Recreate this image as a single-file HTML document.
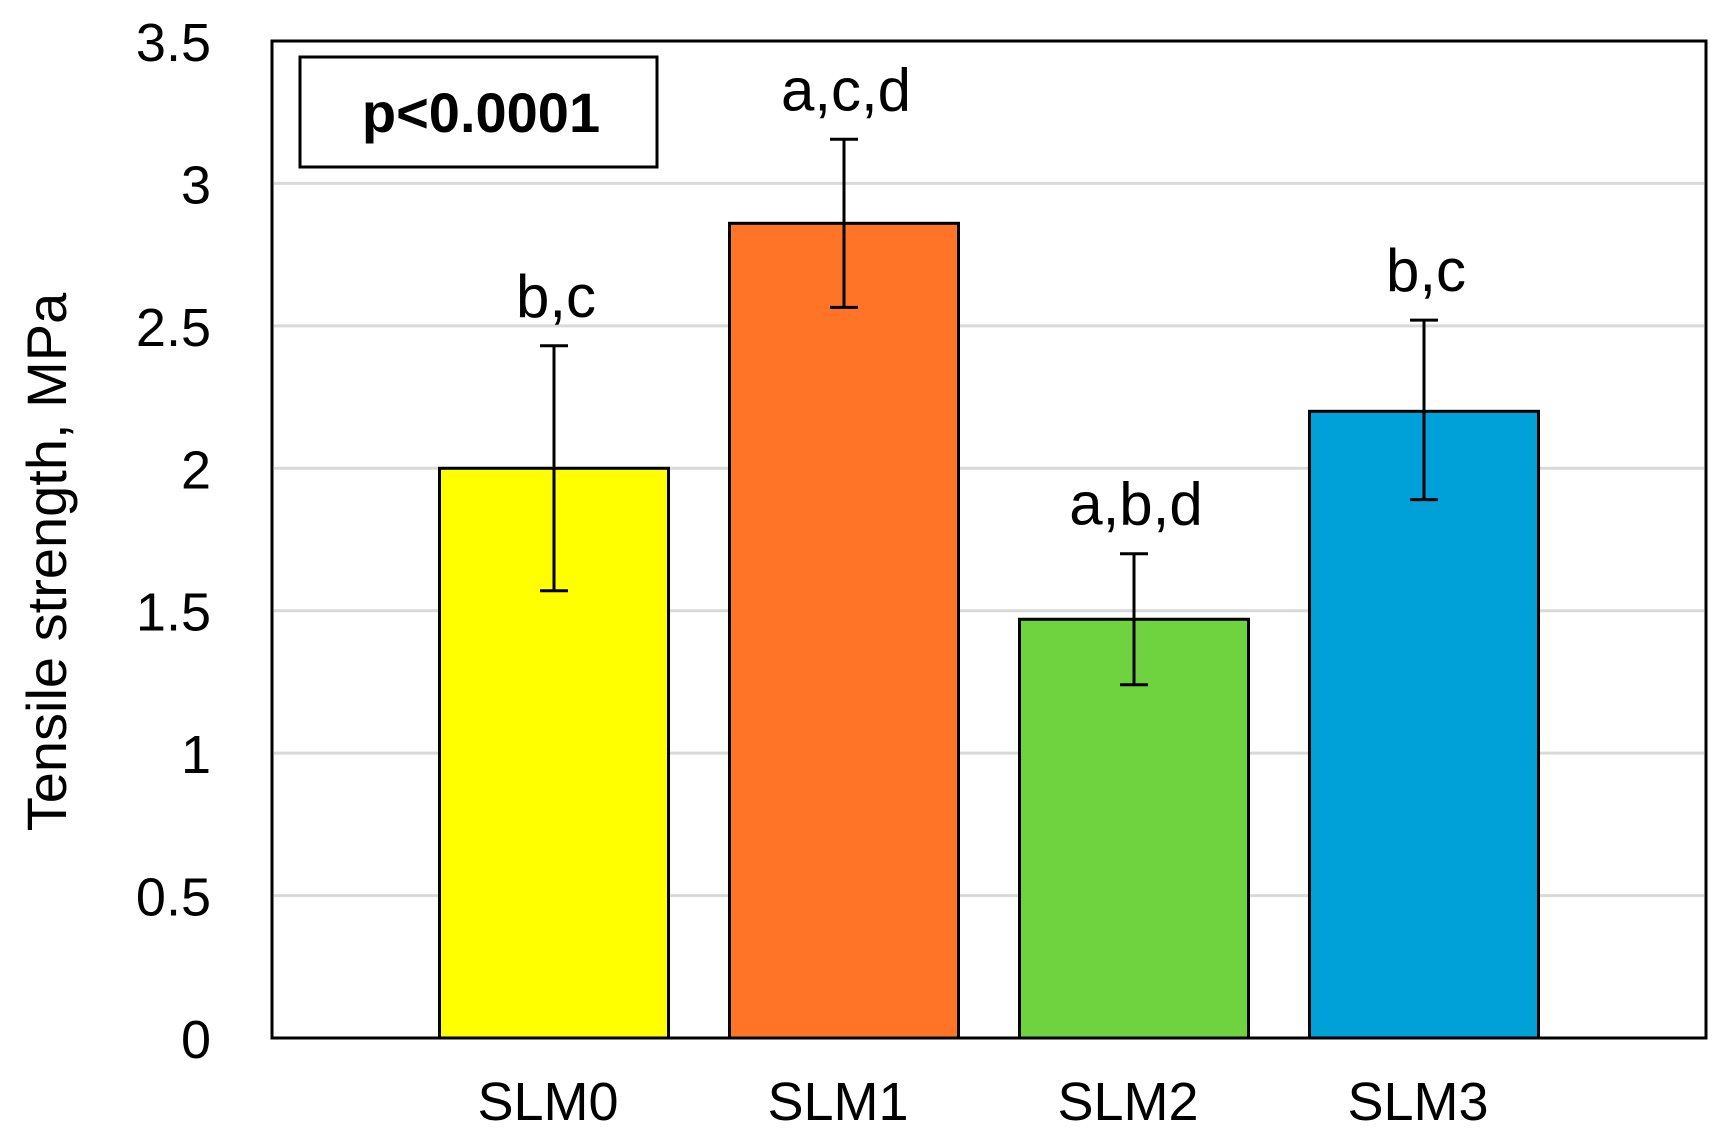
<!DOCTYPE html>
<html><head><meta charset="utf-8">
<style>
html,body{margin:0;padding:0;background:#fff;}
svg{display:block;font-family:"Liberation Sans",sans-serif;}
</style></head>
<body>
<svg id="chart" width="1732" height="1145" viewBox="0 0 1732 1145">
<g id="grid"></g>
<g id="bars"></g>
<g id="errs"></g>
<g id="ann"></g>
<g id="yticks"></g>
<g id="xticks"></g>
<rect x="272" y="41" width="1434" height="997" fill="none" stroke="#000" stroke-width="3"/>
<g>
<rect x="300" y="57" width="357" height="110" fill="#fff" stroke="#000" stroke-width="3"/>
<text x="481" y="132" text-anchor="middle" font-size="56" font-weight="bold">p&lt;0.0001</text>
</g>
<text transform="translate(66,562) rotate(-90)" text-anchor="middle" font-size="56">Tensile strength, MPa</text>
</svg>
<script>
const categories = ["SLM0","SLM1","SLM2","SLM3"];
const means = [2.0, 2.86, 1.47, 2.2];
const errLow = [1.57, 2.565, 1.24, 1.89];
const errHigh = [2.43, 3.155, 1.70, 2.52];
const letters = ["b,c","a,c,d","a,b,d","b,c"];
const colors = ["#ffff00","#ff7427","#6fd33f","#00a0d8"];
const yTicks = [0,0.5,1,1.5,2,2.5,3,3.5];
const yTickLabels = ["0","0.5","1","1.5","2","2.5","3","3.5"];

const NS = "http://www.w3.org/2000/svg";
const top0 = 41, bot0 = 1038, yMax = 3.5;
function y(v){ return bot0 - v/yMax*(bot0-top0); }
function x(i){ return 554 + i*290; }
const bw = 229;
function mk(parent, tag, attrs){
  const el = document.createElementNS(NS, tag);
  for (const k in attrs) el.setAttribute(k, attrs[k]);
  document.getElementById(parent).appendChild(el);
  return el;
}
yTicks.forEach((t,i)=>{
  if (t>0 && t<yMax){
    const g = mk("grid","line",{x1:274,x2:1704,y1:y(t),y2:y(t),stroke:"#d9d9d9","stroke-width":3});
    
    
  }
  const tl = mk("yticks","text",{x:211,y:y(t)+20,"text-anchor":"end","font-size":54});
  tl.textContent = yTickLabels[i];
  
  
});
categories.forEach((c,i)=>{
  const cx = x(i);
  const b = mk("bars","rect",{x:cx-bw/2,y:y(means[i]),width:bw,height:y(0)-y(means[i]),fill:colors[i],stroke:"#000","stroke-width":3});
  
  
  const v = mk("errs","line",{x1:cx,x2:cx,y1:y(errHigh[i]),y2:y(errLow[i]),stroke:"#000","stroke-width":3});
  
  
  [errHigh[i],errLow[i]].forEach(e=>{
    const cap = mk("errs","line",{x1:cx-14,x2:cx+14,y1:y(e),y2:y(e),stroke:"#000","stroke-width":3});
    
    
  });
  const a = mk("ann","text",{x:cx+2,y:y(errHigh[i])-29,"text-anchor":"middle","font-size":60});
  a.textContent = letters[i];
  
  
  const xl = mk("xticks","text",{x:cx-6,y:1120,"text-anchor":"middle","font-size":54});
  xl.textContent = c;
  
  
});
</script>
</body></html>
